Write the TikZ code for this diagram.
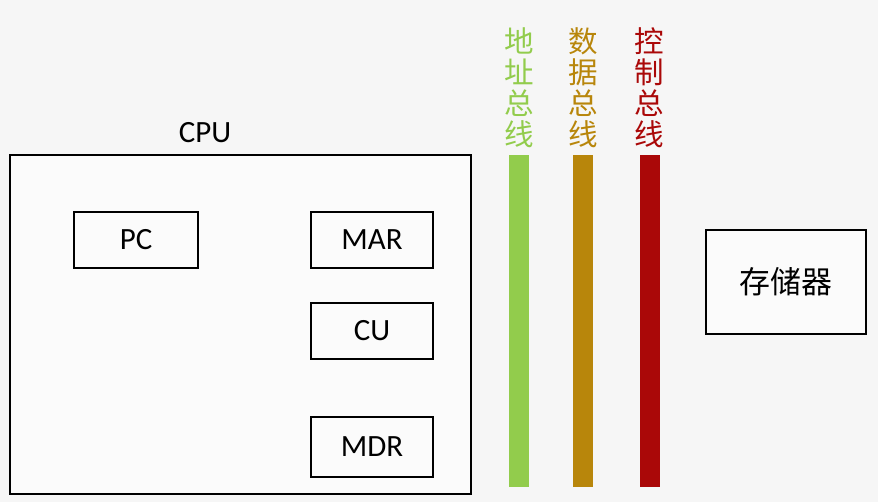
\documentclass[tikz,border=0pt]{standalone}
\usepackage{fontspec}
\setmainfont{Carlito}
\newfontfamily\cjk{Noto Sans CJK SC}
\usepackage{xcolor}
\usepackage{tikz}
\usetikzlibrary{positioning}
\definecolor{BgGray}{RGB}{246,246,246}
\definecolor{AddrGreen}{RGB}{146,204,76}
\definecolor{DataBrown}{RGB}{184,134,11}
\definecolor{CtrlRed}{RGB}{170,8,8}
\tikzset{
  unit/.style={
    rectangle, draw=black, line width=1.5pt, fill=white!60!BgGray,
    inner sep=0pt, font=\fontsize{22}{26}\selectfont
  },
  reg/.style={unit, minimum width=3.05cm, minimum height=1.4cm},
  bus/.style={rectangle, draw=none, inner sep=0pt,
    minimum width=0.5cm, minimum height=8.3cm},
  buslbl/.style={align=center, inner sep=0pt,
    font=\cjk\fontsize{21}{22}\selectfont}
}
\begin{document}
\begin{tikzpicture}[x=0.025cm, y=-0.025cm]
  \fill[BgGray] (0,0) rectangle (878,502);
  \useasboundingbox (0,0) rectangle (878,502);

  % CPU and its registers
  \node[unit, minimum width=11.525cm, minimum height=8.475cm, fill=BgGray!40!white]
    (cpu) at (240.5,324.5) {};
  \node[font=\fontsize{22}{26}\selectfont] (cpulbl) at (205,133) {CPU};
  \node[reg, minimum width=3.1cm] (pc) at (136,240) {PC};
  \node[reg] (mar) at (372,240) {MAR};
  \node[reg] (cu) at (372,331) {CU};
  \node[reg, minimum height=1.5cm] (mdr) at (372,447) {MDR};

  % buses
  \node[bus, fill=AddrGreen] (abus) at (519,321) {};
  \node[bus, fill=DataBrown] (dbus) at (583,321) {};
  \node[bus, fill=CtrlRed] (cbus) at (649.5,321) {};
  \node[buslbl, text=AddrGreen, above=5pt of abus] (albl) {地\\址\\总\\线};
  \node[buslbl, text=DataBrown, above=5pt of dbus] (dlbl) {数\\据\\总\\线};
  \node[buslbl, text=CtrlRed, above=5pt of cbus] (clbl) {控\\制\\总\\线};

  % memory
  \node[unit, minimum width=4cm, minimum height=2.6cm,
    font=\cjk\fontsize{22}{26}\selectfont] (mem) at (786,282) {存储器};
\end{tikzpicture}
\end{document}
